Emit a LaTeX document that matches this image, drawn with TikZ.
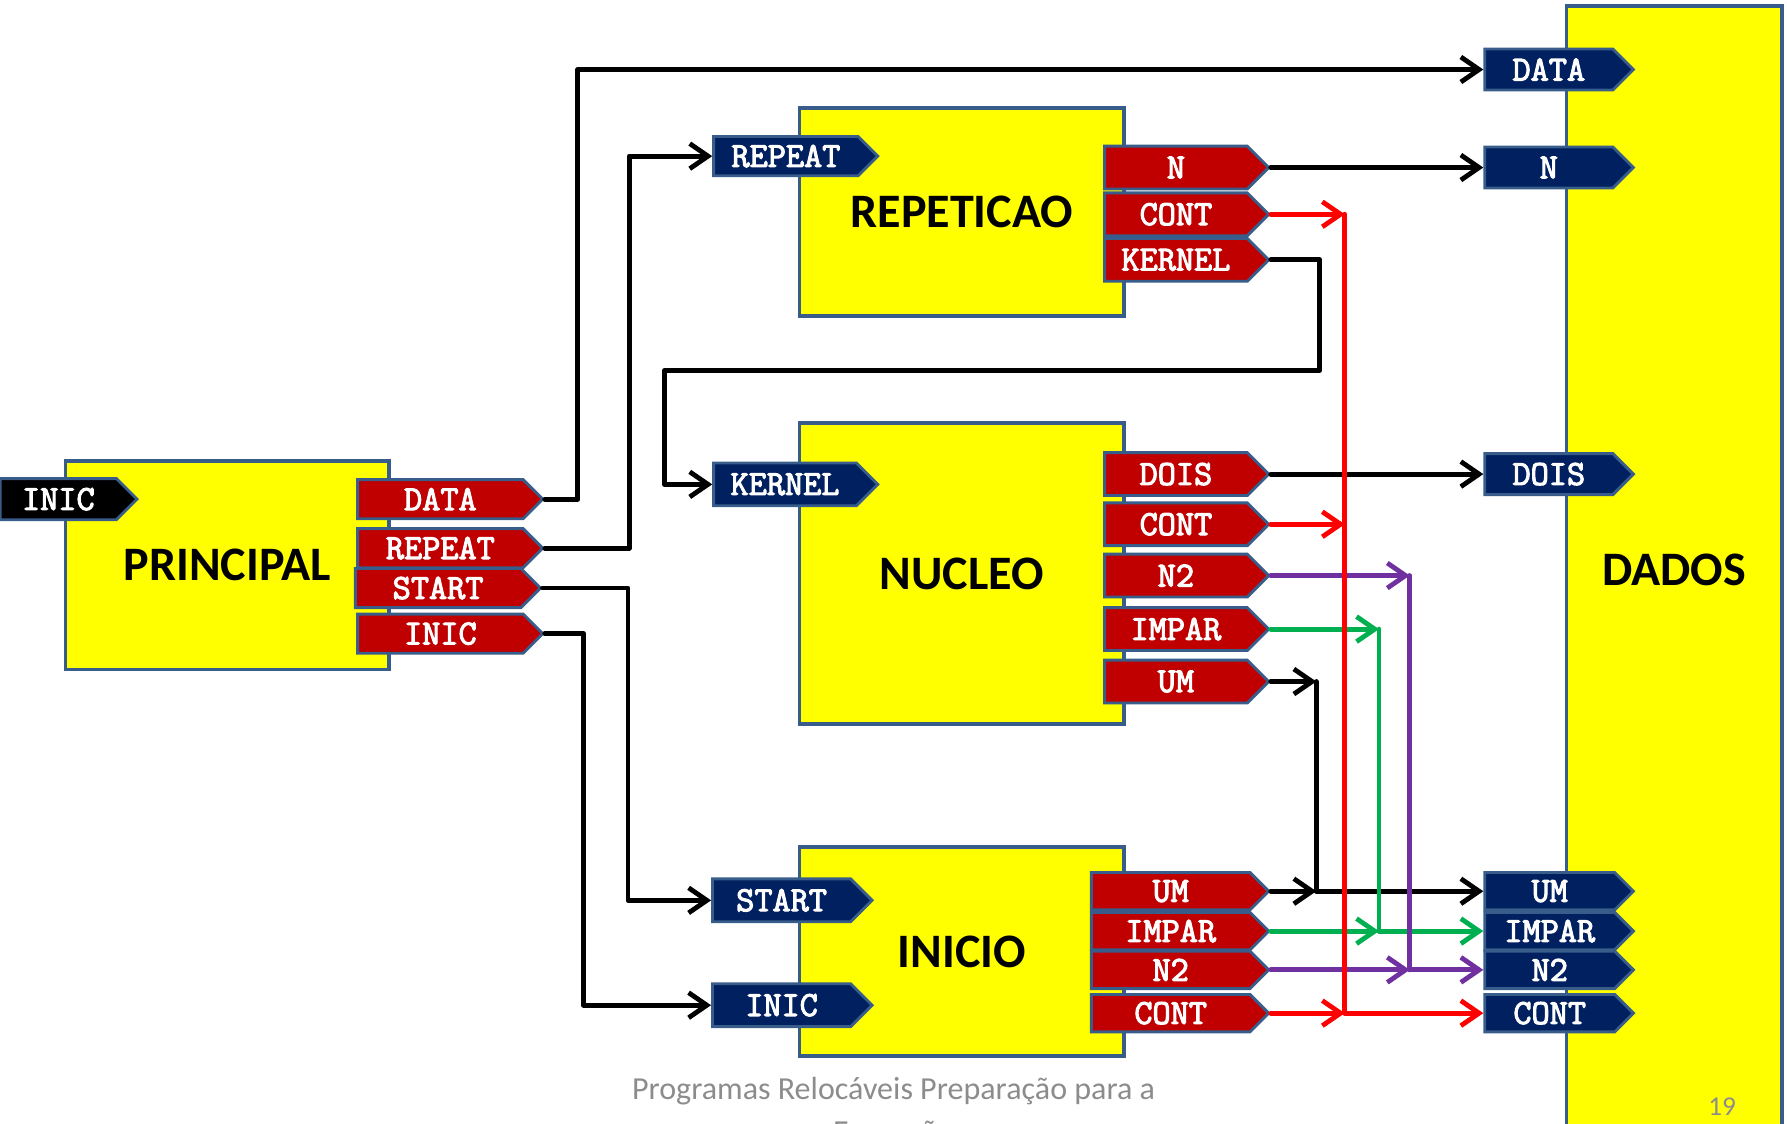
\documentclass[tikz,border=0pt]{standalone}
\usepackage{fontspec}
\setmainfont{Carlito}
\newfontfamily\tagfont{Latin Modern Mono}[FakeBold=3]
\usepackage{tikz}
\usetikzlibrary{shapes.symbols,arrows.meta}
\definecolor{borda}{HTML}{385D8A}
\definecolor{amarelo}{HTML}{FFFF00}
\definecolor{vermelho}{HTML}{C00000}
\definecolor{marinho}{HTML}{002060}
\definecolor{verde}{HTML}{00B050}
\definecolor{roxo}{HTML}{7030A0}
\definecolor{cinza}{HTML}{8C8C8C}
\tikzset{
  bloco/.style={draw=borda, fill=amarelo, line width=2.4pt, inner sep=0pt,
    font=\bfseries\fontsize{30}{36}\selectfont},
  porta/.style={signal, signal to=east, draw=borda, line width=1.8pt, text=white,
    inner sep=0pt, anchor=east, font=\tagfont\fontsize{22}{26}\selectfont},
  saida/.style={porta, fill=vermelho},
  entrada/.style={porta, fill=marinho},
  fio/.style={line width=3pt, line cap=round, line join=round},
  seta/.style={fio, -{Straight Barb[length=4mm, width=5.5mm]}},
}

\begin{document}
\begin{tikzpicture}[x=0.25mm, y=-0.25mm]
    \useasboundingbox (0,0) rectangle (1568,986);
    % Les blocs
    \node[bloco, minimum width=71mm, minimum height=45.75mm] (principal) at (199.5,496) {PRINCIPAL};
    \node[bloco, minimum width=71.25mm, minimum height=45.75mm] (repeticao) at (844,186) {REPETICAO};
    \node[bloco, minimum width=71.25mm, minimum height=66mm] (nucleo) at (844,503.5) {NUCLEO};
    \node[bloco, minimum width=71.25mm, minimum height=45.75mm] (inicio) at (844,835) {INICIO};
    \node[bloco, minimum width=47.25mm, minimum height=247.5mm] (dados) at (1469,500) {DADOS};
    % Ports de PRINCIPAL
    \node[porta, fill=black, minimum width=30mm, minimum height=9mm] (p-in) at (122,438) {INIC};
    \node[saida, minimum width=40.6mm, minimum height=8.6mm] (p-data) at (478,438) {DATA};
    \node[saida, minimum width=40.6mm, minimum height=8.6mm] (p-repeat) at (478,481) {REPEAT};
    \node[saida, minimum width=40.6mm, minimum height=8.6mm] (p-start) at (476,516) {START};
    \node[saida, minimum width=40.6mm, minimum height=8.6mm] (p-inic) at (478,556) {INIC};
    % Ports de REPETICAO
    \node[entrada, minimum width=36mm, minimum height=8.6mm] (r-repeat) at (772,137) {REPEAT};
    \node[saida, minimum width=36mm, minimum height=9.4mm] (r-n) at (1115,147) {N};
    \node[saida, minimum width=36mm, minimum height=9.4mm] (r-cont) at (1115,188) {CONT};
    \node[saida, minimum width=36mm, minimum height=9.4mm] (r-kernel) at (1115,228) {KERNEL};
    % Ports de NUCLEO
    \node[entrada, minimum width=36mm, minimum height=9.4mm] (n-kernel) at (772,425) {KERNEL};
    \node[saida, minimum width=36mm, minimum height=9.4mm] (n-dois) at (1115,416) {DOIS};
    \node[saida, minimum width=36mm, minimum height=9.4mm] (n-cont) at (1115,460) {CONT};
    \node[saida, minimum width=36mm, minimum height=9.4mm] (n-n2) at (1115,505) {N2};
    \node[saida, minimum width=36mm, minimum height=9.4mm] (n-impar) at (1115,552) {IMPAR};
    \node[saida, minimum width=36mm, minimum height=9.4mm] (n-um) at (1115,598) {UM};
    % Ports de INICIO
    \node[entrada, minimum width=35mm, minimum height=9.4mm] (i-start) at (767,790) {START};
    \node[entrada, minimum width=35mm, minimum height=9.4mm] (i-inic) at (767,882) {INIC};
    \node[saida, minimum width=38.9mm, minimum height=8.2mm] (i-um) at (1115,782) {UM};
    \node[saida, minimum width=38.9mm, minimum height=8.2mm] (i-impar) at (1115,817) {IMPAR};
    \node[saida, minimum width=38.9mm, minimum height=8.2mm] (i-n2) at (1115,851) {N2};
    \node[saida, minimum width=38.9mm, minimum height=8.2mm] (i-cont) at (1115,889) {CONT};
    % Ports de DADOS
    \node[entrada, minimum width=32.6mm, minimum height=9mm] (d-data) at (1435,61) {DATA};
    \node[entrada, minimum width=32.6mm, minimum height=9mm] (d-n) at (1435,147) {N};
    \node[entrada, minimum width=32.6mm, minimum height=9mm] (d-dois) at (1435,416) {DOIS};
    \node[entrada, minimum width=32.6mm, minimum height=8.2mm] (d-um) at (1435,782) {UM};
    \node[entrada, minimum width=32.6mm, minimum height=8.2mm] (d-impar) at (1435,817) {IMPAR};
    \node[entrada, minimum width=32.6mm, minimum height=8.2mm] (d-n2) at (1435,851) {N2};
    \node[entrada, minimum width=32.6mm, minimum height=8.2mm] (d-cont) at (1435,889) {CONT};
    % Barres verticales
    \coordinate (bus-um) at (1155,0);
    \coordinate (bus-cont) at (1180,0);
    \coordinate (bus-impar) at (1210,0);
    \coordinate (bus-n2) at (1237,0);
    % Fils noirs
    \draw[seta] (p-data.east) -- ++(29,0) |- (d-data.west);
    \draw[seta] (p-repeat.east) -- ++(74,0) |- (r-repeat.west);
    \draw[seta] (p-start.east) -- ++(75,0) |- (i-start.west);
    \draw[seta] (p-inic.east) -- ++(34,0) |- (i-inic.west);
    \draw[seta] (r-n.east) -- (d-n.west);
    \draw[seta] (r-kernel.east) -| (1158,325) -| (583,425) -- (n-kernel.west);
    \draw[seta] (n-dois.east) -- (d-dois.west);
    % UM
    \draw[seta] (n-um.east) -- (n-um.east -| bus-um);
    \draw[fio] (n-um.east -| bus-um) -- (i-um.east -| bus-um);
    \draw[seta] (i-um.east) -- (i-um.east -| bus-um);
    \draw[seta] (i-um.east -| bus-um) -- (d-um.west);
    % IMPAR
    \draw[seta, verde] (n-impar.east) -- (n-impar.east -| bus-impar);
    \draw[fio, verde] (n-impar.east -| bus-impar) -- (i-impar.east -| bus-impar);
    \draw[seta, verde] (i-impar.east) -- (i-impar.east -| bus-impar);
    \draw[seta, verde] (i-impar.east -| bus-impar) -- (d-impar.west);
    % N2
    \draw[seta, roxo] (n-n2.east) -- (n-n2.east -| bus-n2);
    \draw[fio, roxo] (n-n2.east -| bus-n2) -- (i-n2.east -| bus-n2);
    \draw[seta, roxo] (i-n2.east) -- (i-n2.east -| bus-n2);
    \draw[seta, roxo] (i-n2.east -| bus-n2) -- (d-n2.west);
    % CONT
    \draw[fio, red] (r-cont.east -| bus-cont) -- (i-cont.east -| bus-cont);
    \draw[seta, red] (r-cont.east) -- (r-cont.east -| bus-cont);
    \draw[seta, red] (n-cont.east) -- (n-cont.east -| bus-cont);
    \draw[seta, red] (i-cont.east) -- (i-cont.east -| bus-cont);
    \draw[seta, red] (i-cont.east -| bus-cont) -- (d-cont.west);
    % Pied de page
    \node[anchor=north, inner sep=0pt, align=center, text=cinza, font=\fontsize{20}{27}\selectfont]
      (rodape) at (784,945) {Programas Relocáveis Preparação para a\\Execução};
    \node[text=cinza, font=\fontsize{17}{20}\selectfont] (pagina) at (1511,971) {19};
\end{tikzpicture}
\end{document}
